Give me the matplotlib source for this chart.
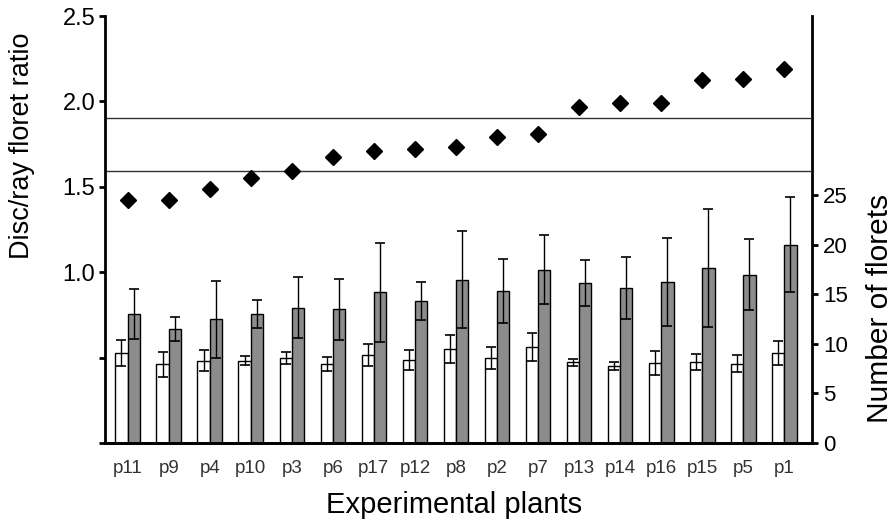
import numpy as np
import matplotlib.pyplot as plt

plt.rcParams['font.family'] = ['Liberation Sans', 'DejaVu Sans']

# plants, sorted by disc/ray floret ratio
plants = ['p11', 'p9', 'p4', 'p10', 'p3', 'p6', 'p17', 'p12', 'p8',
          'p2', 'p7', 'p13', 'p14', 'p16', 'p15', 'p5', 'p1']

ratio = [1.42, 1.42, 1.49, 1.55, 1.59, 1.675, 1.71, 1.72, 1.735,
         1.79, 1.81, 1.97, 1.99, 1.99, 2.125, 2.13, 2.19]

# ray florets (white bars) and disc florets (grey bars)
ray = [9.05, 7.95, 8.3, 8.3, 8.6, 8.0, 8.85, 8.35, 9.5,
       8.6, 9.7, 8.15, 7.8, 8.05, 8.15, 8.0, 9.05]
ray_err = [1.3, 1.25, 1.05, 0.45, 0.6, 0.7, 1.1, 1.0, 1.4,
           1.1, 1.4, 0.35, 0.4, 1.2, 0.8, 0.85, 1.2]

disc = [13.0, 11.5, 12.5, 13.0, 13.65, 13.5, 15.2, 14.35, 16.5,
        15.35, 17.5, 16.15, 15.65, 16.25, 17.65, 17.0, 20.0]
disc_err = [2.5, 1.2, 3.9, 1.4, 3.1, 3.1, 5.0, 1.9, 4.9,
            3.25, 3.45, 2.3, 3.1, 4.4, 5.95, 3.6, 4.8]

# reference lines for the ratio
ratio_lines = [1.59, 1.905]


def main():
    fig = plt.figure(figsize=(8.94, 5.27), dpi=100)
    ax = fig.add_axes([0.1174, 0.1594, 0.7909, 0.8102])
    ax2 = ax.twinx()

    x = np.arange(len(plants))
    w = 0.3

    # bars on the right axis
    ax2.bar(x - w / 2, ray, w, color='white', edgecolor='black', linewidth=1.0, zorder=2)
    ax2.bar(x + w / 2, disc, w, color='#8c8c8c', edgecolor='black', linewidth=1.0, zorder=2)
    ax2.errorbar(x - w / 2, ray, yerr=ray_err, fmt='none', ecolor='black',
                 elinewidth=1.0, capsize=3.5, capthick=1.2, zorder=3)
    ax2.errorbar(x + w / 2, disc, yerr=disc_err, fmt='none', ecolor='black',
                 elinewidth=1.0, capsize=3.5, capthick=1.2, zorder=3)

    # ratio diamonds on the left axis
    for r in ratio_lines:
        ax.axhline(r, color='#333333', linewidth=1.0, zorder=1)
    ax2.set_zorder(1)
    ax.set_zorder(2)
    ax.patch.set_visible(False)
    ax.plot(x, ratio, 'D', color='black', markersize=8.5, zorder=4)

    xl = (-0.553, 16.675)
    ax.set_xlim(xl)
    ax2.set_xlim(xl)
    ax.set_ylim(0, 2.5)
    ax2.set_ylim(0, 43.1)

    ax.set_yticks([0, 0.5, 1.0, 1.5, 2.0, 2.5])
    ax.set_yticklabels(['', '', '1.0', '1.5', '2.0', '2.5'], fontsize=17)
    ax2.set_yticks([0, 5, 10, 15, 20, 25])
    ax2.set_yticklabels(['0', '5', '10', '15', '20', '25'], fontsize=16)

    ax.set_xticks(x)
    ax.set_xticklabels(plants, fontsize=13.5, color='#333333')
    ax.tick_params(axis='x', length=0, pad=12)
    ax.tick_params(axis='y', direction='out', length=4, width=2, pad=3)
    ax2.tick_params(axis='y', direction='out', length=4, width=2, pad=4)

    for a in (ax, ax2):
        a.spines['top'].set_visible(False)
    ax.spines['right'].set_visible(False)
    ax2.spines['left'].set_visible(False)
    ax.spines['left'].set_linewidth(2)
    ax.spines['bottom'].set_linewidth(2)
    ax2.spines['right'].set_linewidth(2)
    ax2.spines['bottom'].set_linewidth(2)

    fig.text(454 / 894, 1 - 505 / 527, 'Experimental plants', fontsize=21,
             ha='center', va='center')
    fig.text(22 / 894, 1 - 146 / 527, 'Disc/ray floret ratio', fontsize=19.5,
             rotation=90, ha='center', va='center')
    fig.text(880 / 894, 1 - 308 / 527, 'Number of florets', fontsize=21.5,
             rotation=90, ha='center', va='center')

    fig.savefig('out.png', dpi=100)


if __name__ == '__main__':
    main()
